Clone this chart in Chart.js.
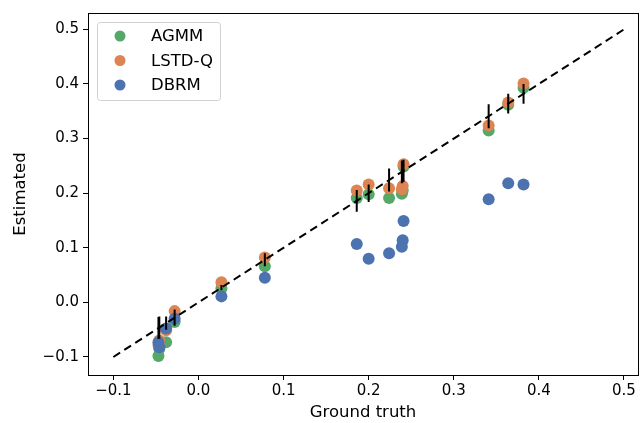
<!DOCTYPE html>
<html>
<head>
<meta charset="utf-8">
<script src="https://cdn.jsdelivr.net/npm/chart.js@4/dist/chart.umd.min.js"></script>
<style>
  html, body { margin: 0; padding: 0; background: #fff; }
  #wrap { width: 640px; height: 423px; }
</style>
</head>
<body>
<div id="wrap"><canvas id="scatterChart" width="640" height="423"></canvas></div>
<script>
// ground truth values and what each method estimated for them
const groundTruth = [-0.047, -0.046, -0.038, -0.028, 0.027, 0.078, 0.186, 0.200, 0.224, 0.239, 0.240, 0.241, 0.341, 0.364, 0.382];
const agmm  = [-0.098, -0.085, -0.073, -0.036, 0.026, 0.066, 0.191, 0.198, 0.191, 0.199, 0.205, 0.249, 0.315, 0.362, 0.393];
const lstdq = [-0.078, -0.070, -0.051, -0.016, 0.037, 0.082, 0.205, 0.216, 0.209, 0.207, 0.213, 0.253, 0.324, 0.366, 0.401];
const dbrm  = [-0.073, -0.082, -0.048, -0.030, 0.011, 0.045, 0.107, 0.080, 0.090, 0.102, 0.114, 0.149, 0.189, 0.218, 0.216];
// half length of the black bars around the diagonal
const truthSpread = [0.020, 0.020, 0.012, 0.015, 0.005, 0.012, 0.020, 0.016, 0.021, 0.021, 0.020, 0.020, 0.022, 0.018, 0.018];
const diagonal = [-0.1, 0.5];
const xTicks = [-0.1, 0.0, 0.1, 0.2, 0.3, 0.4, 0.5];
const yTicks = [-0.1, 0.0, 0.1, 0.2, 0.3, 0.4, 0.5];

const series = [
  { label: "AGMM", values: agmm, color: "#55A868" },
  { label: "LSTD-Q", values: lstdq, color: "#DD8452" },
  { label: "DBRM", values: dbrm, color: "#4C72B0" }
];

const FONT = "DejaVu Sans";
Chart.defaults.font.family = FONT;
Chart.defaults.font.size = 15;
Chart.defaults.color = "#000";

const pts = vals => vals.map((v, i) => ({ x: groundTruth[i], y: v }));

const bars = [];
groundTruth.forEach((g, i) => {
  bars.push({ x: g, y: g - truthSpread[i] });
  bars.push({ x: g, y: g + truthSpread[i] });
  bars.push({ x: g, y: null });
});

const datasets = [
  {
    data: bars, showLine: true, spanGaps: false, pointRadius: 0,
    borderColor: "#000", borderWidth: 2, order: 0
  },
  {
    data: diagonal.map(v => ({ x: v, y: v })), showLine: true, pointRadius: 0,
    borderColor: "#000", borderWidth: 2, borderDash: [8, 5], order: 1
  }
];
// later series sit on top, like matplotlib
series.forEach((s, k) => {
  datasets.push({
    label: s.label, data: pts(s.values),
    backgroundColor: s.color, borderWidth: 0,
    pointRadius: 6, pointHoverRadius: 6, order: 10 - k
  });
});

const tickFmt = v => (v < 0 ? "\u2212" : "") + Math.abs(v).toFixed(1);

// full box around the plot + matplotlib-like legend in the corner
const frameAndLegend = {
  id: "frameAndLegend",
  afterDraw(chart) {
    const ctx = chart.ctx, a = chart.chartArea;
    ctx.save();
    ctx.strokeStyle = "#000";
    ctx.lineWidth = 1;
    ctx.strokeRect(Math.round(a.left) + 0.5, Math.round(a.top) + 0.5,
      Math.round(a.right - a.left), Math.round(a.bottom - a.top));

    const bx = a.left + 9, by = a.top + 9, bw = 123, bh = 78;
    ctx.beginPath();
    ctx.roundRect(bx + 0.5, by + 0.5, bw, bh, 3);
    ctx.fillStyle = "rgba(255,255,255,0.8)";
    ctx.fill();
    ctx.strokeStyle = "#d0d0d0";
    ctx.stroke();

    ctx.font = "16.5px " + FONT;
    ctx.textBaseline = "middle";
    series.forEach((s, i) => {
      const cy = by + 14 + i * 24.5;
      ctx.beginPath();
      ctx.arc(bx + 23, cy, 5.5, 0, Math.PI * 2);
      ctx.fillStyle = s.color;
      ctx.fill();
      ctx.fillStyle = "#000";
      ctx.fillText(s.label, bx + 54, cy + 1);
    });
    ctx.restore();
  }
};

new Chart(document.getElementById("scatterChart"), {
  type: "scatter",
  data: { datasets: datasets },
  options: {
    responsive: false,
    animation: false,
    layout: { autoPadding: false, padding: { top: 10, right: 2, left: 0, bottom: 0 } },
    plugins: {
      legend: { display: false },
      tooltip: { enabled: false }
    },
    scales: {
      x: {
        type: "linear",
        min: -0.1298, max: 0.5165,
        afterBuildTicks: scale => { scale.ticks = xTicks.map(v => ({ value: v })); },
        afterFit: scale => { scale.height = 48; scale.paddingRight = 0; },
        ticks: { callback: tickFmt, padding: 2, maxRotation: 0 },
        grid: { drawOnChartArea: false, tickLength: 5, color: "#000", tickWidth: 1 },
        border: { color: "#000" },
        title: { display: true, text: "Ground truth", font: { size: 16.5 }, padding: { top: 0, bottom: 0 } }
      },
      y: {
        type: "linear",
        min: -0.133, max: 0.53,
        afterBuildTicks: scale => { scale.ticks = yTicks.map(v => ({ value: v })); },
        afterFit: scale => { scale.width = 88; },
        ticks: { callback: tickFmt, padding: 4 },
        grid: { drawOnChartArea: false, tickLength: 5, color: "#000", tickWidth: 1 },
        border: { color: "#000" },
        title: { display: true, text: "Estimated", font: { size: 16.5 }, padding: { top: 11, bottom: 0 } }
      }
    }
  },
  plugins: [frameAndLegend]
});
</script>
</body>
</html>
